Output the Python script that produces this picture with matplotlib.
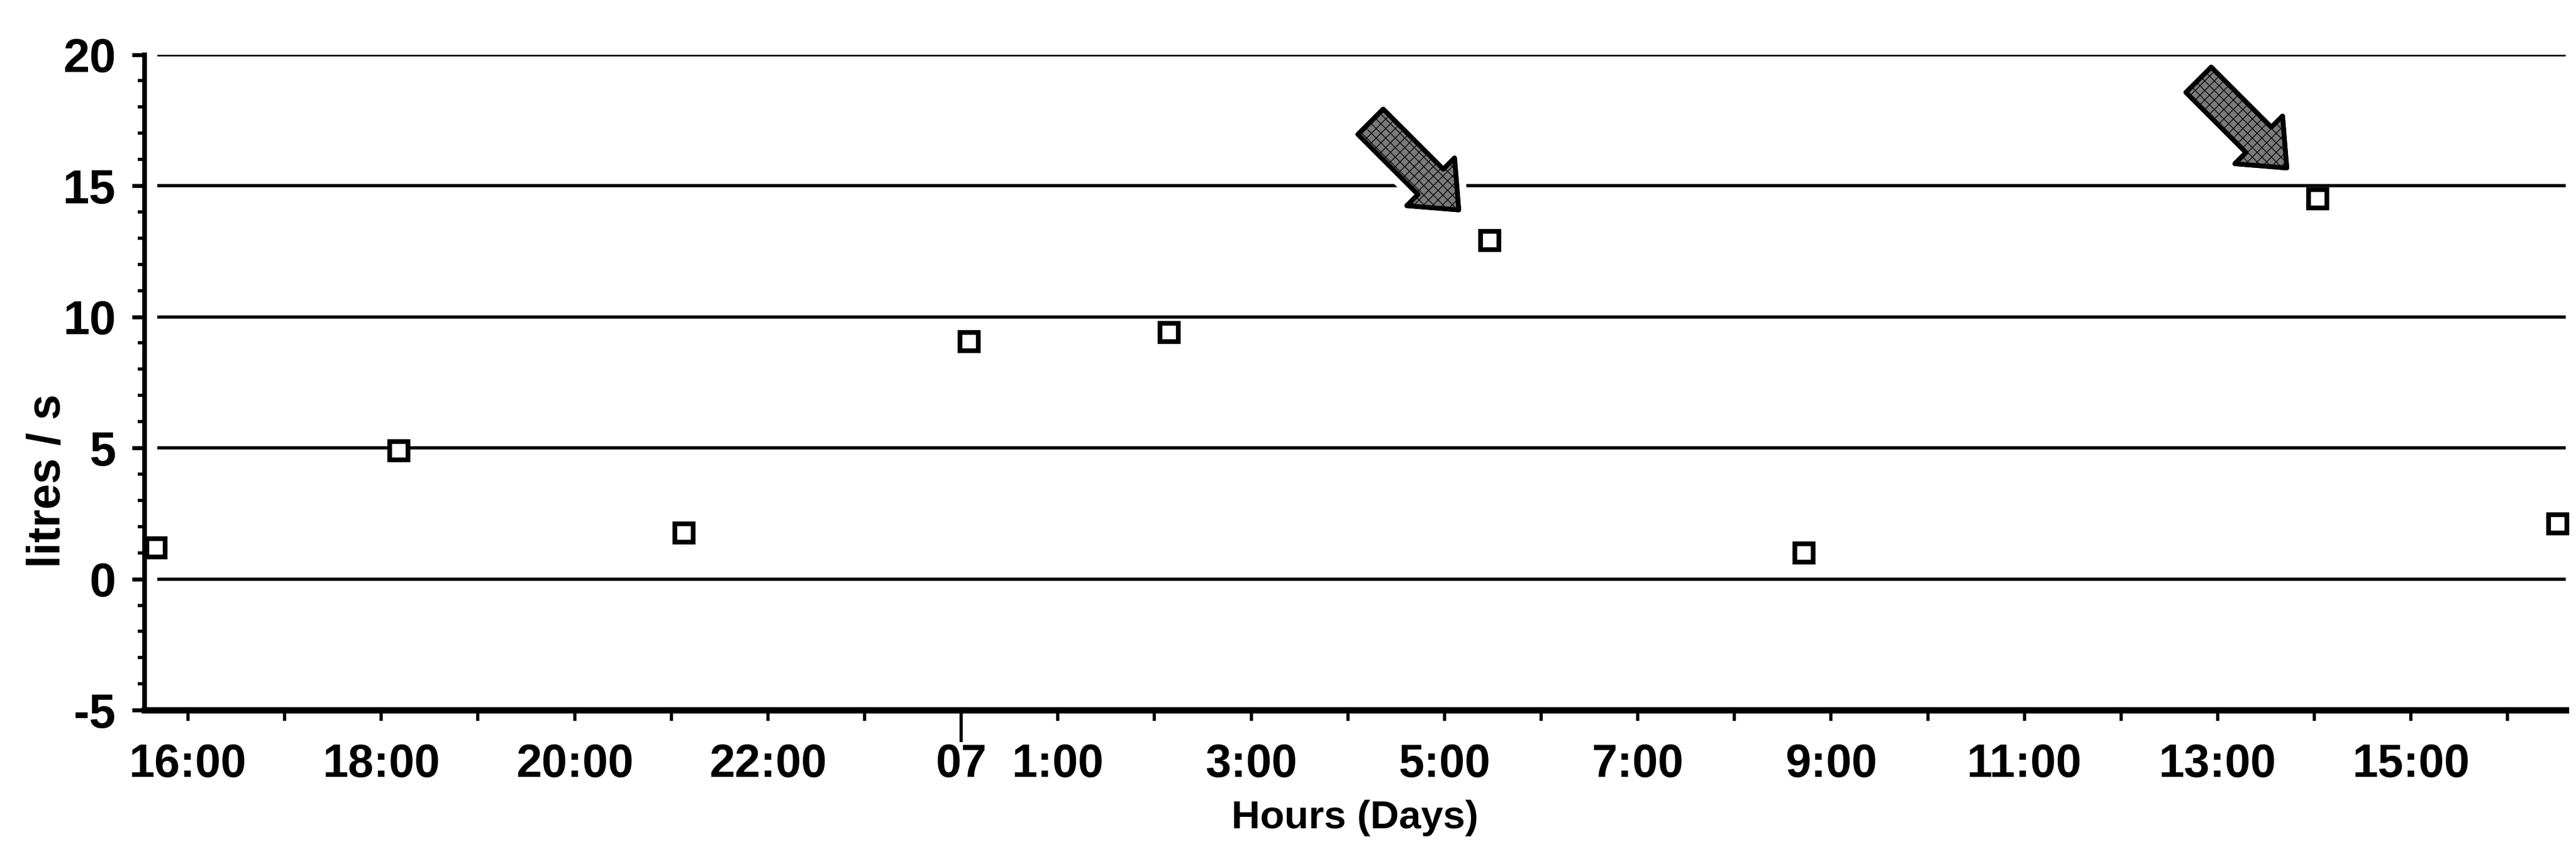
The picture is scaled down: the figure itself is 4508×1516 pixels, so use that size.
import matplotlib
matplotlib.use('Agg')

import pandas as pd
import matplotlib.pyplot as plt
import matplotlib.dates as mdates
import matplotlib.patheffects as pe
from matplotlib.ticker import FixedLocator, MultipleLocator

# flow readings (litres / s) over one day
sample_times = pd.to_datetime([
    "2000-01-06 15:40", "2000-01-06 18:11", "2000-01-06 21:08",
    "2000-01-07 00:05", "2000-01-07 02:09", "2000-01-07 05:28",
    "2000-01-07 08:43", "2000-01-07 14:02", "2000-01-07 16:31",
])
flow = [1.2, 4.9, 1.75, 9.05, 9.4, 12.9, 1.0, 14.5, 2.1]

# points picked out with arrows
flagged = [5, 7]

tick_times = pd.to_datetime([
    "2000-01-06 16:00", "2000-01-06 18:00", "2000-01-06 20:00", "2000-01-06 22:00",
    "2000-01-07 00:00", "2000-01-07 01:00", "2000-01-07 03:00", "2000-01-07 05:00",
    "2000-01-07 07:00", "2000-01-07 09:00", "2000-01-07 11:00", "2000-01-07 13:00",
    "2000-01-07 15:00",
])
tick_labels = ["16:00", "18:00", "20:00", "22:00", "07", "1:00", "3:00", "5:00",
               "7:00", "9:00", "11:00", "13:00", "15:00"]
day_break = pd.Timestamp("2000-01-07 00:00")

x_start = pd.Timestamp("2000-01-06 15:33")
x_end = pd.Timestamp("2000-01-07 16:36")
y_ticks = [-5, 0, 5, 10, 15, 20]

plt.rcParams['font.family'] = ['Liberation Sans', 'DejaVu Sans']
plt.rcParams['font.weight'] = 'bold'
plt.rcParams['axes.unicode_minus'] = False

fig = plt.figure(figsize=(45.08, 15.16), dpi=100)
ax = fig.add_axes([0.0561, 0.180, 0.9399, 0.757])

for v in y_ticks[1:]:
    ax.axhline(v, xmin=0.006, color='black', lw=4, zorder=1)

ax.plot(sample_times, flow, linestyle='none', marker='s', markersize=23,
        markerfacecolor='white', markeredgecolor='black', markeredgewidth=6,
        zorder=3, clip_on=False)

for i in flagged:
    ann = ax.annotate('', xy=(sample_times[i], flow[i]), xytext=(-150, 150),
                      textcoords='offset points',
                      arrowprops=dict(arrowstyle='simple,head_length=5,head_width=8.5,tail_width=4.5',
                                      mutation_scale=10, fc='#7a7a7a', ec='black',
                                      lw=6, hatch='xx', shrinkA=0, shrinkB=55),
                      zorder=4)
    ann.arrow_patch.set_path_effects([pe.withStroke(linewidth=24, foreground='white'),
                                      pe.Normal()])

ax.set_xlim(x_start, x_end)
ax.set_ylim(-5, 20)

ax.xaxis.set_major_locator(FixedLocator(mdates.date2num(tick_times)))
ax.xaxis.set_major_formatter(plt.FixedFormatter(tick_labels))
ax.xaxis.set_minor_locator(mdates.HourLocator())
ax.yaxis.set_major_locator(FixedLocator(y_ticks))
ax.yaxis.set_minor_locator(MultipleLocator(1))

ax.tick_params(axis='x', which='both', direction='out', length=14, width=4,
               labelsize=58, pad=28)
ax.tick_params(axis='y', which='major', direction='out', length=16, width=5,
               labelsize=60, pad=20)
ax.tick_params(axis='y', which='minor', direction='out', length=9, width=4)

# longer tick at the day change
for t, tk in zip(tick_times, ax.xaxis.get_major_ticks()):
    if t == day_break:
        tk.tick1line.set_markersize(40)

for side in ['top', 'right']:
    ax.spines[side].set_visible(False)
ax.spines['left'].set_linewidth(6)
ax.spines['bottom'].set_linewidth(8)

ax.set_xlabel('Hours (Days)', fontsize=50, fontweight='bold', labelpad=16)
ax.set_ylabel('litres / s', fontsize=58, fontweight='bold')
ax.yaxis.set_label_coords(-0.031, 0.35)

plt.savefig('out.png', dpi=100, facecolor='white')
